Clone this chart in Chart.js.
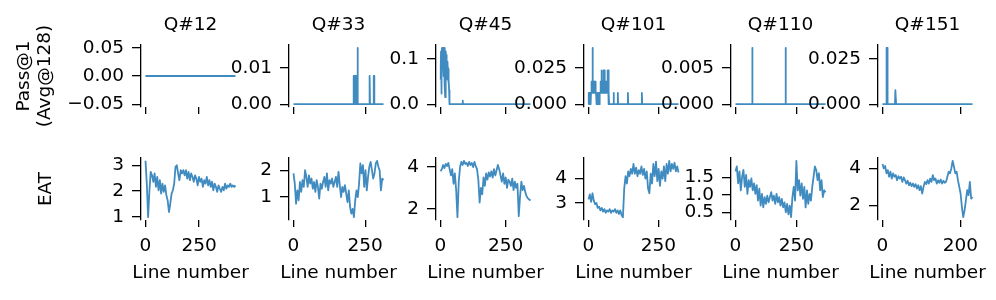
<!DOCTYPE html>
<html>
<head>
<meta charset="utf-8">
<script src="https://cdn.jsdelivr.net/npm/chart.js@4.4.0/dist/chart.umd.min.js"></script>
<style>
    body { margin: 0; background: #fff; width: 996px; height: 300px; position: relative; overflow: hidden; }
    canvas { position: absolute; }
</style>
</head>
<body>
<script>
// ---------------- Data ----------------
const questions = ['Q#12', 'Q#33', 'Q#45', 'Q#101', 'Q#110', 'Q#151'];
const lineCounts = [421, 315, 346, 323, 371, 232];
const xTicks = [[0, 250], [0, 250], [0, 250], [0, 250], [0, 250], [0, 200]];

// Pass@1 (Avg@128): line number -> passing samples out of 128
const passLinesQ12 = [0, 420];
const passHitsQ12 = [0, 0];
const passLinesQ33 = [0, 208, 209, 210, 211, 212, 213, 214, 215, 216, 217, 218, 219, 220, 221, 222, 223, 224, 225, 264, 265, 266, 267, 279, 280, 281, 282, 314];
const passHitsQ33 = [0, 0, 1, 0, 1, 1, 0, 1, 0, 1, 1, 0, 1, 1, 0, 1, 2, 0, 0, 0, 1, 1, 0, 0, 1, 1, 0, 0];
const passLinesQ45 = [0, 1, 2, 3, 4, 5, 6, 7, 8, 9, 10, 11, 12, 13, 14, 15, 16, 17, 18, 19, 20, 21, 22, 23, 24, 25, 26, 27, 28, 29, 30, 31, 32, 33, 34, 35, 84, 85, 86, 345];
const passHitsQ45 = [7, 11, 15, 9, 3, 14, 16, 12, 15, 10, 12, 8, 15, 16, 13, 16, 9, 5, 2, 6, 13, 15, 11, 14, 8, 11, 12, 7, 11, 10, 6, 9, 7, 4, 2, 0, 0, 1, 0, 0];
const passLinesQ101 = [0, 1, 2, 3, 4, 5, 6, 7, 8, 9, 10, 11, 12, 13, 14, 15, 16, 17, 18, 19, 20, 21, 22, 23, 24, 25, 26, 27, 28, 29, 30, 31, 32, 33, 34, 35, 36, 37, 38, 39, 40, 41, 42, 43, 44, 45, 46, 47, 48, 49, 50, 51, 52, 53, 54, 55, 56, 57, 58, 59, 60, 61, 62, 63, 64, 65, 66, 67, 68, 69, 70, 71, 72, 73, 74, 75, 89, 90, 91, 104, 105, 106, 140, 141, 142, 190, 191, 192, 322];
const passHitsQ101 = [0, 1, 0, 1, 1, 0, 1, 1, 0, 1, 1, 2, 1, 1, 2, 5, 1, 2, 1, 2, 2, 1, 2, 1, 2, 2, 1, 1, 0, 1, 1, 0, 1, 1, 0, 1, 0, 0, 1, 1, 0, 1, 1, 2, 1, 2, 3, 2, 1, 2, 1, 2, 2, 1, 3, 2, 3, 1, 2, 2, 1, 2, 1, 1, 2, 1, 1, 2, 3, 2, 3, 1, 0, 1, 0, 0, 0, 1, 0, 0, 1, 0, 0, 1, 0, 0, 1, 0, 0];
const passLinesQ110 = [0, 68, 69, 70, 205, 206, 207, 370];
const passHitsQ110 = [0, 0, 1, 0, 0, 1, 0, 0];
const passLinesQ151 = [0, 9, 10, 11, 12, 13, 32, 33, 34, 35, 231];
const passHitsQ151 = [0, 0, 4, 3, 4, 0, 0, 1, 1, 0, 0];

const passYTicks = [[-0.05, 0, 0.05], [0, 0.01], [0, 0.1], [0, 0.025], [0, 0.005], [0, 0.025]];
const passYLabels = [['\u22120.05', '0.00', '0.05'], ['0.00', '0.01'], ['0.0', '0.1'], ['0.000', '0.025'], ['0.000', '0.005'], ['0.000', '0.025']];

// EAT, sampled at even steps from first to last line
const eatQ12 = [3.17, 2.29, 0.99, 2.0, 2.74, 2.61, 2.36, 2.68, 2.16, 2.55, 2.03, 2.42, 1.90, 2.29, 1.97, 2.22, 1.84, 1.64, 1.19, 1.51, 1.90, 2.03, 2.29, 2.94, 3.0, 2.68, 2.42, 2.81, 2.68, 2.81, 2.61, 2.81, 2.48, 2.74, 2.42, 2.68, 2.55, 2.36, 2.61, 2.48, 2.22, 2.55, 2.36, 2.48, 2.16, 2.42, 2.29, 2.55, 2.22, 2.42, 2.16, 2.36, 2.03, 2.29, 2.16, 1.97, 2.22, 2.09, 1.97, 2.16, 2.03, 2.29, 2.09, 2.22, 2.16, 2.29, 2.16, 2.22, 2.16, 2.22];
const eatQ33 = [1.88, 1.50, 0.75, 1.25, 0.88, 1.56, 1.19, 1.63, 1.38, 2.0, 1.75, 1.38, 1.81, 1.50, 1.69, 1.31, 1.56, 1.19, 1.63, 1.38, 0.94, 1.50, 1.31, 1.56, 1.75, 1.38, 1.88, 1.25, 1.63, 1.50, 1.69, 1.38, 1.56, 1.75, 1.38, 1.94, 1.44, 1.00, 1.38, 1.19, 1.44, 1.13, 0.81, 1.25, 0.63, 0.38, 0.56, 0.25, 0.88, 1.25, 1.00, 1.50, 2.25, 1.88, 2.19, 1.38, 2.0, 1.25, 1.75, 2.13, 2.31, 2.0, 1.69, 1.88, 2.25, 2.35, 2.13, 2.0, 1.25, 1.69, 1.63];
const eatQ45 = [3.8, 3.9, 4.1, 3.95, 4.15, 4.05, 4.2, 3.9, 3.6, 3.9, 3.2, 3.7, 2.9, 1.6, 3.3, 4.0, 4.25, 4.1, 4.3, 4.15, 4.2, 4.05, 4.25, 4.1, 4.2, 4.0, 4.25, 4.05, 3.9, 3.4, 2.3, 3.0, 2.7, 3.5, 3.1, 3.7, 3.4, 3.75, 3.55, 3.8, 3.5, 3.9, 3.6, 3.85, 4.1, 3.9, 3.6, 3.3, 3.7, 3.2, 3.5, 3.0, 3.4, 3.3, 3.1, 3.45, 2.9, 3.3, 3.0, 3.2, 1.65, 2.6, 3.3, 2.9, 3.1, 2.8, 2.6, 2.5, 2.45, 2.4];
const eatQ101 = [3.15, 3.35, 3.05, 3.4, 3.1, 2.95, 3.0, 2.8, 2.85, 2.7, 2.8, 2.65, 2.75, 2.6, 2.7, 2.65, 2.75, 2.6, 2.7, 2.65, 2.75, 2.6, 2.7, 2.55, 2.7, 2.5, 2.42, 3.6, 4.1, 3.8, 4.3, 4.1, 4.4, 4.2, 4.6, 4.2, 4.45, 4.1, 4.35, 4.2, 4.5, 4.15, 4.4, 4.0, 4.3, 3.6, 3.4, 4.2, 3.8, 4.6, 4.1, 4.7, 3.9, 4.4, 3.7, 4.3, 4.0, 4.5, 3.9, 4.6, 4.2, 4.73, 4.3, 4.6, 4.4, 4.65, 4.3, 4.5, 4.25];
const eatQ110 = [1.67, 1.81, 1.33, 1.67, 1.13, 1.52, 1.71, 1.23, 1.57, 1.03, 1.42, 1.23, 1.47, 1.13, 1.33, 1.03, 1.28, 0.84, 1.18, 0.70, 1.03, 0.65, 0.94, 0.75, 0.98, 0.79, 0.94, 1.08, 0.84, 0.98, 0.75, 1.03, 0.79, 0.94, 0.70, 0.89, 0.65, 0.79, 0.51, 0.75, 0.45, 0.70, 0.37, 0.94, 1.23, 0.84, 1.97, 1.13, 1.42, 0.98, 1.33, 0.89, 1.23, 0.65, 1.13, 0.75, 1.03, 0.84, 1.23, 1.52, 1.81, 1.71, 1.42, 1.62, 1.13, 1.42, 0.94, 1.13, 1.08];
const eatQ151 = [4.24, 4.0, 4.13, 3.73, 3.91, 3.55, 3.82, 3.45, 3.73, 3.55, 3.64, 3.36, 3.58, 3.45, 3.55, 3.27, 3.51, 3.36, 3.18, 3.33, 3.09, 3.22, 3.04, 3.18, 3.0, 3.15, 2.91, 3.09, 2.82, 3.04, 2.64, 3.0, 3.27, 3.15, 3.36, 3.18, 3.45, 3.27, 3.64, 3.36, 3.45, 3.18, 3.36, 3.22, 3.40, 3.18, 3.33, 3.22, 3.27, 3.55, 3.82, 3.73, 4.0, 4.41, 4.09, 3.73, 3.82, 3.36, 3.0, 2.64, 1.91, 1.36, 1.73, 2.27, 2.82, 2.55, 3.27, 2.36, 2.45];

const eatYTicks = [[1, 2, 3], [1, 2], [2, 4], [3, 4], [0.5, 1.0, 1.5], [2, 4]];
const eatYLabels = [['1', '2', '3'], ['1', '2'], ['2', '4'], ['3', '4'], ['0.5', '1.0', '1.5'], ['2', '4']];

// ---------------- Layout ----------------
const axLeft = [141, 289, 436, 584, 731, 878];
const axWidth = 99;
const axHeight = 62;
const rowTop = [45, 158];
const LINE_COLOR = 'rgba(31, 119, 180, 0.85)';
const TEXT = { family: 'DejaVu Sans', size: 18.5 };

function passPoints(lines, hits) {
    return lines.map((x, i) => ({ x: x, y: hits[i] / 128 }));
}

function eatPoints(values, count) {
    const step = (count - 1) / (values.length - 1);
    return values.map((v, i) => ({ x: i * step, y: v }));
}

// ---------------- One subplot ----------------
function drawPanel(row, col, points, yTicks, yLabels) {
    const isTop = row === 0;
    const yAxisW = col === 0 ? 140 : 70;
    const headH = isTop ? 45 : 25;
    const xAxisH = isTop ? 30 : 37;
    const footH = isTop ? 0 : 30;

    const canvas = document.createElement('canvas');
    canvas.width = yAxisW * 2 + axWidth;
    canvas.height = headH + axHeight + xAxisH + footH;
    canvas.style.left = (axLeft[col] - yAxisW) + 'px';
    canvas.style.top = (rowTop[row] - headH) + 'px';
    document.body.appendChild(canvas);

    const n = lineCounts[col] - 1;
    const ys = points.map(p => p.y);
    let lo = Math.min(...ys), hi = Math.max(...ys);
    if (lo === hi) { lo -= 0.05; hi += 0.05; }
    const pad = (hi - lo) * 0.05;

    let yTitle = '';
    if (col === 0) yTitle = isTop ? ['Pass@1', '(Avg@128)'] : 'EAT';

    return new Chart(canvas.getContext('2d'), {
        type: 'line',
        data: {
            datasets: [{
                data: points,
                borderColor: LINE_COLOR,
                borderWidth: 1.8,
                borderJoinStyle: 'round',
                pointRadius: 0,
                tension: 0,
                fill: false
            }]
        },
        options: {
            responsive: false,
            animation: false,
            events: [],
            layout: { padding: { top: isTop ? 0 : headH, right: 0, left: 0, bottom: 0 } },
            plugins: {
                legend: { display: false },
                tooltip: { enabled: false },
                title: {
                    display: isTop,
                    text: questions[col],
                    color: '#000',
                    font: { ...TEXT, weight: 'normal', lineHeight: 1.2 },
                    padding: { top: 13.9, bottom: 8.9 }
                },
                subtitle: {
                    display: !isTop,
                    position: 'bottom',
                    text: 'Line number',
                    color: '#000',
                    font: { ...TEXT, weight: 'normal', lineHeight: 1.2 },
                    padding: { top: 4.9, bottom: 2.9 }
                }
            },
            scales: {
                x: {
                    type: 'linear',
                    bounds: 'data',
                    min: -0.05 * n,
                    max: 1.05 * n,
                    border: { display: false },
                    grid: { drawOnChartArea: false, tickLength: 7, color: '#000', lineWidth: 1.3 },
                    ticks: {
                        color: '#000', font: TEXT, padding: 8, maxRotation: 0, autoSkip: false,
                        callback: (v, i) => isTop ? '' : String(xTicks[col][i])
                    },
                    afterBuildTicks: axis => { axis.ticks = xTicks[col].map(v => ({ value: v })); },
                    afterFit: axis => { axis.height = xAxisH; }
                },
                y: {
                    type: 'linear',
                    bounds: 'data',
                    min: lo - pad,
                    max: hi + pad,
                    border: { display: true, color: '#000', width: 1.3 },
                    grid: { drawOnChartArea: false, tickLength: 9, color: '#000', lineWidth: 1.3 },
                    ticks: {
                        color: '#000', font: TEXT, padding: 8, autoSkip: false,
                        callback: (v, i) => yLabels[i]
                    },
                    afterBuildTicks: axis => { axis.ticks = yTicks.map(v => ({ value: v })); },
                    afterFit: axis => { axis.width = yAxisW; },
                    title: {
                        display: col === 0, text: yTitle, color: '#000',
                        font: { ...TEXT, lineHeight: 1.1 },
                        padding: { top: isTop ? 13.4 : 35, bottom: 0 }
                    }
                },
                // empty box on the right so titles centre over the plot area
                yRight: {
                    type: 'linear',
                    position: 'right',
                    grid: { display: false },
                    border: { display: false },
                    ticks: { display: false },
                    afterFit: axis => { axis.width = yAxisW; }
                }
            }
        }
    });
}

// ---------------- Build grid ----------------
const passSeries = [
    passPoints(passLinesQ12, passHitsQ12),
    passPoints(passLinesQ33, passHitsQ33),
    passPoints(passLinesQ45, passHitsQ45),
    passPoints(passLinesQ101, passHitsQ101),
    passPoints(passLinesQ110, passHitsQ110),
    passPoints(passLinesQ151, passHitsQ151)
];
const eatSeries = [eatQ12, eatQ33, eatQ45, eatQ101, eatQ110, eatQ151];

questions.forEach((q, col) => {
    drawPanel(0, col, passSeries[col], passYTicks[col], passYLabels[col]);
    drawPanel(1, col, eatPoints(eatSeries[col], lineCounts[col]), eatYTicks[col], eatYLabels[col]);
});
</script>
</body>
</html>
